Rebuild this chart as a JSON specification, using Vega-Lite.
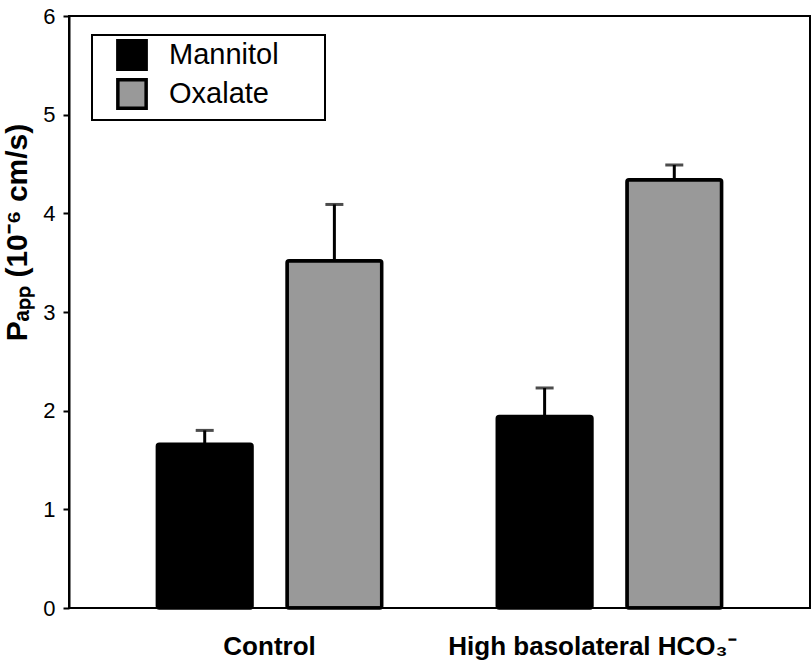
{
  "$schema": "https://vega.github.io/schema/vega-lite/v6.json",
  "width": 741,
  "height": 592,
  "autosize": {"type": "none"},
  "padding": {"left": 69, "top": 16, "right": 2, "bottom": 55},
  "background": "white",
  "config": {
    "font": "Liberation Sans",
    "view": {"stroke": "black", "strokeWidth": 2},
    "axisY": {
      "domain": true, "domainColor": "black", "domainWidth": 2,
      "tickColor": "black", "tickWidth": 2, "tickSize": 6,
      "labelFontSize": 22, "labelColor": "black", "labelPadding": 8,
      "grid": false,
      "titleFontSize": 30, "titleFontWeight": "bold", "titleColor": "black",
      "titleX": -52, "titleY": 216, "titleAngle": -90,
      "titleBaseline": "middle", "titleAlign": "center"
    },
    "axisX": {
      "ticks": false, "domain": false, "grid": false,
      "labelFontSize": 26, "labelFontWeight": "bold", "labelColor": "black",
      "labelPadding": 25, "labelAngle": 0, "labelLimit": 0
    },
    "legend": {"strokeWidth": 2}
  },
  "data": {
    "values": [
      {"group": "Control", "solution": "Mannitol", "papp": 1.66, "upper": 1.80},
      {"group": "Control", "solution": "Oxalate", "papp": 3.52, "upper": 4.09},
      {"group": "High basolateral HCO₃⁻", "solution": "Mannitol", "papp": 1.94, "upper": 2.23},
      {"group": "High basolateral HCO₃⁻", "solution": "Oxalate", "papp": 4.34, "upper": 4.49}
    ]
  },
  "encoding": {
    "x": {
      "field": "group", "type": "nominal", "sort": null,
      "scale": {"paddingInner": 0.34, "paddingOuter": 0.26},
      "axis": {
        "title": null, "labelLimit": 0,
        "labelOffset": {"condition": {"test": "datum.value == 'Control'", "value": 0}, "value": -17}
      }
    },
    "xOffset": {
      "field": "solution", "type": "nominal", "sort": ["Mannitol", "Oxalate"],
      "scale": {"paddingInner": 0.27, "paddingOuter": 0}
    }
  },
  "layer": [
    {
      "mark": {"type": "rule", "strokeWidth": 3, "color": "black"},
      "encoding": {
        "y": {"field": "papp", "type": "quantitative", "scale": {"domain": [0, 6], "nice": false}, "title": "Pₐₚₚ (10⁻⁶ cm/s)", "axis": {"values": [0, 1, 2, 3, 4, 5, 6], "format": "d"}},
        "y2": {"field": "upper"}
      }
    },
    {
      "mark": {"type": "tick", "size": 18, "thickness": 3, "color": "black"},
      "encoding": {
        "y": {"field": "upper", "type": "quantitative", "scale": {"domain": [0, 6], "nice": false}, "title": "Pₐₚₚ (10⁻⁶ cm/s)", "axis": {"values": [0, 1, 2, 3, 4, 5, 6], "format": "d"}}
      }
    },
    {
      "mark": {"type": "bar", "stroke": "black", "strokeWidth": 3.5, "cornerRadius": 2},
      "encoding": {
        "y": {"field": "papp", "type": "quantitative", "scale": {"domain": [0, 6], "nice": false}, "title": "Pₐₚₚ (10⁻⁶ cm/s)", "axis": {"values": [0, 1, 2, 3, 4, 5, 6], "format": "d"}},
        "fill": {
          "field": "solution", "type": "nominal",
          "scale": {"domain": ["Mannitol", "Oxalate"], "range": ["black", "#999999"]},
          "legend": {
            "title": null, "orient": "none", "legendX": 23, "legendY": 19,
            "labelFontSize": 29, "labelColor": "black", "labelLimit": 400,
            "symbolType": "square", "symbolSize": 800,
            "symbolStrokeColor": "black", "symbolStrokeWidth": 3.5,
            "strokeColor": "black", "fillColor": "white",
            "padding": 4, "symbolOffset": 20, "labelOffset": 21, "rowPadding": -5,
            "labelExpr": "datum.label + '\u2800\u2800'"
          }
        }
      }
    }
  ]
}
